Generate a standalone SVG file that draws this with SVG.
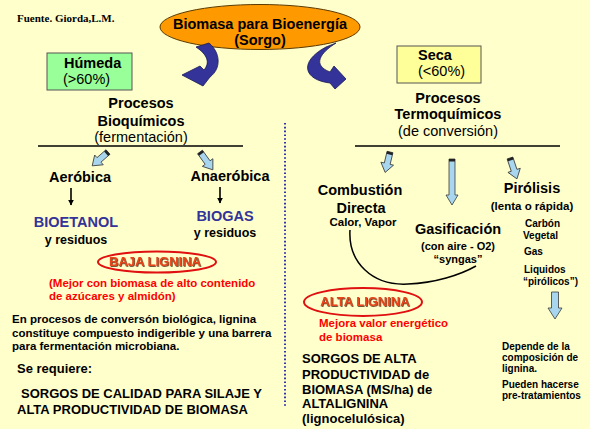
<svg xmlns="http://www.w3.org/2000/svg" width="590" height="429" viewBox="0 0 590 429">
<defs>
<style>
text{font-family:"Liberation Sans",Arial,sans-serif;font-weight:bold;fill:#000}
.n{font-weight:normal}
.c{text-anchor:middle}
.t145{font-size:14.5px}
.t13{font-size:13px}
.t115{font-size:11.5px}
.t11{font-size:11px}
.t10{font-size:10px}
.red{fill:#FF0000}
.blue{fill:#333399}
.lig{fill:#E8441A;font-size:13px;filter:url(#sh)}
.ba{fill:#A9D6EF;stroke:#3a3a3a;stroke-width:0.8}
.cap{fill:#222}
.ell{fill:none;stroke:#E01010;stroke-width:2}
.curl{fill:#333399;stroke:#1a1a55;stroke-width:0.8}
</style>
<filter id="sh" x="-10%" y="-30%" width="120%" height="160%">
<feDropShadow dx="0.8" dy="0.8" stdDeviation="0.3" flood-color="#3a1a00" flood-opacity="0.9"/>
</filter>
<marker id="ah" viewBox="0 0 10 10" refX="9" refY="5" markerWidth="6" markerHeight="6" orient="auto" markerUnits="userSpaceOnUse">
<path d="M0,0 L10,5 L0,10 Z" fill="#000"/>
</marker>
<g id="ar21"><polygon class="ba" points="-3,0 3,0 3,12 6.5,12 0,21 -6.5,12 -3,12"/><rect class="cap" x="-3" y="0" width="6" height="2.5"/></g>
<g id="ar22"><polygon class="ba" points="-3,0 3,0 3,13 6.5,13 0,22 -6.5,13 -3,13"/><rect class="cap" x="-3" y="0" width="6" height="2.5"/></g>
</defs>
<rect width="590" height="429" fill="#FFFFCC"/>

<text x="17" y="22" style="font-family:'Liberation Serif','Times New Roman',serif;font-size:11px">Fuente. Giorda,L.M.</text>

<g id="biomasa">
<ellipse cx="260" cy="27" rx="100" ry="22.5" fill="#FF9900" stroke="#5a3a00" stroke-width="1"/>
<text class="c t145" x="260" y="29">Biomasa para Bioenergía</text>
<text class="c t145" x="260" y="44.5">(Sorgo)</text>
</g>

<g id="curl-left">
<path class="curl" d="M196,47 L209,43 C220,52 222,68 210,77 L203,86 L182,75 L200,66 L204,70 C210,63 208,55 196,47 Z"/>
</g>
<g id="curl-right">
<path class="curl" d="M326,47 L336,43 C320,53 312,65 330,72 L334,66 L346,79 L335,89 L330,83 C304,80 298,62 326,47 Z"/>
</g>

<g id="humeda">
<rect x="47" y="53" width="85" height="37" fill="#99FF99" stroke="#555" stroke-width="1"/>
<text class="t145" x="64" y="68">Húmeda</text>
<text class="t145 n" x="63" y="84">(&gt;60%)</text>
</g>

<g id="seca">
<rect x="397" y="46" width="84" height="37" fill="#FFFF99" stroke="#555" stroke-width="1"/>
<text class="t145" x="418" y="60">Seca</text>
<text class="t145 n" x="418" y="76">(&lt;60%)</text>
</g>

<g id="bioquimicos">
<text class="c t145" x="141" y="108">Procesos</text>
<text class="c t145" x="141" y="126">Bioquímicos</text>
<text class="c t145 n" x="141" y="142">(fermentación)</text>
</g>

<g id="termoquimicos">
<text class="c t145" x="448" y="103">Procesos</text>
<text class="c t145" x="448" y="119">Termoquímicos</text>
<text class="c t145 n" x="448" y="136">(de conversión)</text>
</g>

<g id="connectors">
<line x1="38" y1="146" x2="243" y2="146" stroke="#000" stroke-width="1.3"/>
<line x1="355" y1="146" x2="560" y2="146" stroke="#000" stroke-width="1.3"/>
<line x1="285" y1="123" x2="285" y2="408" stroke="#3333AA" stroke-width="2" stroke-dasharray="1.6 2.2"/>
<use href="#ar21" transform="translate(108,152) rotate(48.8)"/>
<use href="#ar22" transform="translate(200,152) rotate(-35.8)"/>
<use href="#ar21" transform="translate(390,152) rotate(13.4)"/>
<g transform="translate(452,159)"><polygon class="ba" points="-3,0 3,0 3,36 6,36 0,46 -6,36 -3,36"/><rect class="cap" x="-3" y="0" width="6" height="2.5"/></g>
<use href="#ar22" transform="translate(510,158) rotate(-18.4)"/>
<polygon class="ba" points="551.5,292 558.5,292 558.5,308 562,308 555,319 548,308 551.5,308"/>
<line x1="71" y1="188" x2="71" y2="205" stroke="#000" stroke-width="1.6" marker-end="url(#ah)"/>
<line x1="220" y1="187" x2="220" y2="203" stroke="#000" stroke-width="1.6" marker-end="url(#ah)"/>
<path d="M350,230 C348,262 372,286 408,284 C435,283 460,275 476,266" fill="none" stroke="#000" stroke-width="1.5"/>
</g>

<g id="aerobica">
<text class="c t145" x="80" y="182">Aeróbica</text>
</g>
<g id="anaerobica">
<text class="c t145" x="230" y="181">Anaeróbica</text>
</g>
<g id="bioetanol">
<text class="c t145 blue" x="76" y="227">BIOETANOL</text>
<text class="c" x="76" y="244" style="font-size:12.5px">y residuos</text>
</g>
<g id="biogas">
<text class="c t145 blue" x="225" y="221">BIOGAS</text>
<text class="c" x="225" y="237" style="font-size:12.5px">y residuos</text>
</g>

<g id="baja-lignina">
<ellipse class="ell" cx="157" cy="262" rx="59" ry="10.5"/>
<text class="c lig" x="155" y="266">BAJA LIGNINA</text>
</g>
<text class="t115 red" x="49" y="287">(Mejor con biomasa de alto contenido</text>
<text class="t115 red" x="49" y="300">de azúcares y almidón)</text>

<text class="t115" x="12" y="323">En procesos de conversón biológica, lignina</text>
<text class="t115" x="12" y="337">constituye compuesto indigerible y una barrera</text>
<text class="t115" x="12" y="350">para fermentación microbiana.</text>
<text class="t13" x="17" y="373">Se requiere:</text>
<text class="t13" x="21" y="398">SORGOS DE CALIDAD PARA SILAJE Y</text>
<text class="t13" x="17" y="414">ALTA PRODUCTIVIDAD DE BIOMASA</text>

<g id="combustion">
<text class="c t145" x="360" y="195">Combustión</text>
<text class="c t145" x="361" y="213">Directa</text>
<text class="c t115" x="363" y="226">Calor, Vapor</text>
</g>
<g id="gasificacion">
<text class="c t145" x="458" y="234">Gasificación</text>
<text class="c t11" x="458" y="250">(con aire - O2)</text>
<text class="c t11" x="458" y="263">“syngas”</text>
</g>
<g id="pirolisis">
<text class="c t145" x="532" y="193">Pirólisis</text>
<text class="c t115" x="532" y="210">(lenta o rápida)</text>
<text class="t10" x="525" y="227">Carbón</text>
<text class="t10" x="523" y="239">Vegetal</text>
<text class="t10" x="524" y="255">Gas</text>
<text class="t10" x="524" y="273">Liquidos</text>
<text class="t10" x="523" y="285">“pirólicos”)</text>
</g>

<g id="alta-lignina">
<ellipse class="ell" cx="363" cy="302" rx="59" ry="14"/>
<text class="c lig" x="365" y="306">ALTA LIGNINA</text>
</g>
<text class="t115 red" x="319" y="327">Mejora valor energético</text>
<text class="t115 red" x="319" y="341">de biomasa</text>

<text class="t13" x="302" y="363">SORGOS DE ALTA</text>
<text class="t13" x="302" y="379">PRODUCTIVIDAD de</text>
<text class="t13" x="302" y="394">BIOMASA (MS/ha) de</text>
<text class="t13" x="302" y="408">ALTALIGNINA</text>
<text class="t13" x="302" y="423">(lignocelulósica)</text>

<g id="depende">
<text class="t10" x="502" y="350">Depende de la</text>
<text class="t10" x="502" y="361">composición de</text>
<text class="t10" x="502" y="372">lignina.</text>
<text class="t10" x="502" y="388">Pueden hacerse</text>
<text class="t10" x="502" y="399">pre-tratamientos</text>
</g>
</svg>
